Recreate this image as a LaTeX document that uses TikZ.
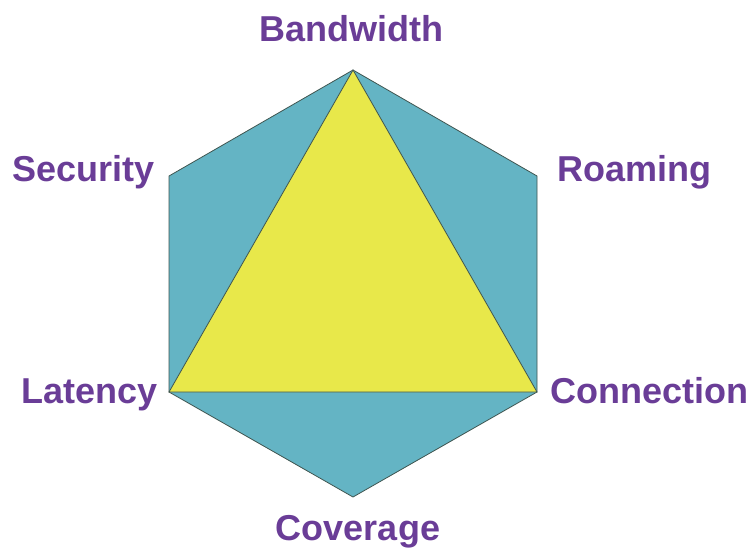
\documentclass[tikz,border=0pt]{standalone}
\usepackage{fontspec}
\setmainfont{Liberation Sans}
\begin{document}
\definecolor{hexteal}{HTML}{64B4C4}
\definecolor{triyellow}{HTML}{E8E84A}
\definecolor{edgegray}{HTML}{3F5550}
\definecolor{labelpurple}{HTML}{6A3D97}
\begin{tikzpicture}[x=1pt,y=-1pt,
  lbl/.style={anchor=base,inner sep=0pt,text=labelpurple,font=\fontsize{36}{40}\selectfont\bfseries},
  facet/.style={draw=edgegray,line width=0.8pt,line join=miter}]
\useasboundingbox (0,0) rectangle (754,549);
% hexagon corners
\coordinate (T)  at (353,70);
\coordinate (UR) at (537,176);
\coordinate (LR) at (537,392);
\coordinate (B)  at (353,497);
\coordinate (LL) at (169,392);
\coordinate (UL) at (169,176);
% hexagon and inner triangle
\filldraw[facet,fill=hexteal] (T) -- (UR) -- (LR) -- (B) -- (LL) -- (UL) -- cycle;
\filldraw[facet,fill=triyellow] (T) -- (LL) -- (LR) -- cycle;
% labels
\node[lbl] (bw)   at (351.5,41)  {Bandwidth};
\node[lbl] (sec)  at (83.5,181)  {Security};
\node[lbl] (roam) at (634.5,181) {Roaming};
\node[lbl] (lat)  at (89.5,403)  {Latency};
\node[lbl] (conn) at (649.5,403) {Connection};
\node[lbl] (cov)  at (358,540)   {Coverage};
\end{tikzpicture}
\end{document}
